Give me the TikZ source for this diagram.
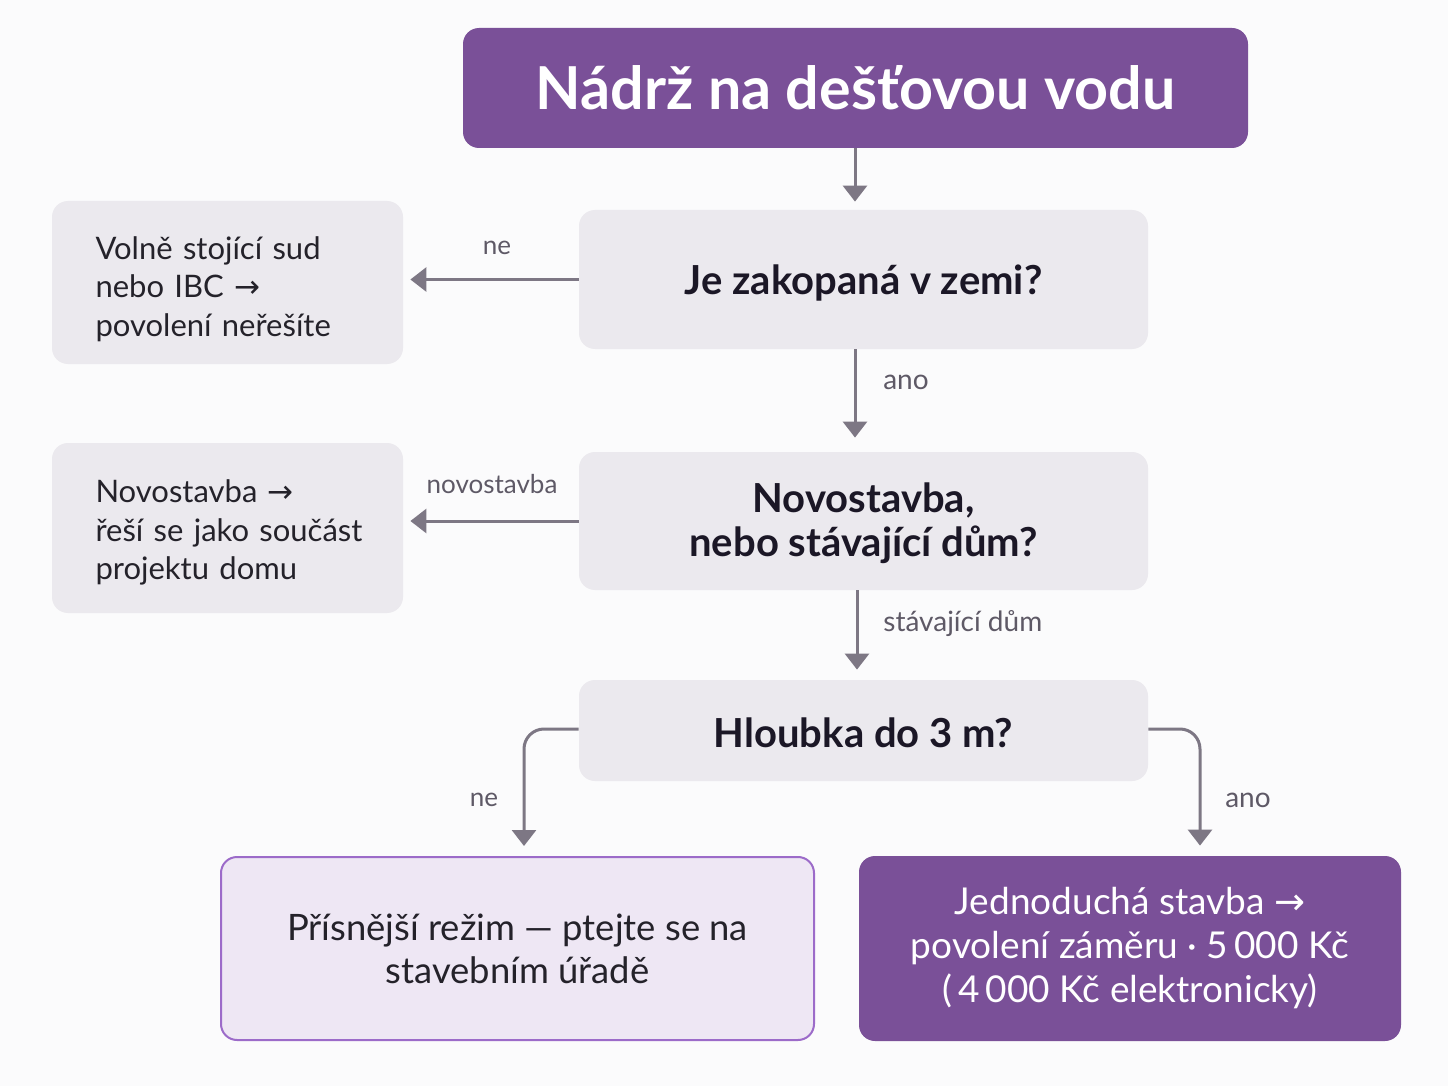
\documentclass[tikz,border=0pt]{standalone}
\usepackage{fontspec}
\setmainfont{Lato}
\newfontfamily\symf{DejaVu Sans}
\usetikzlibrary{arrows.meta}
\definecolor{purp}{HTML}{7A5098}
\definecolor{boxg}{HTML}{EBE9EE}
\definecolor{lilac}{HTML}{EEE7F4}
\definecolor{lilacb}{HTML}{9C6BC9}
\definecolor{arrg}{HTML}{7D7784}
\definecolor{labg}{HTML}{5E5966}
\definecolor{qtext}{HTML}{1B1726}
\definecolor{btext}{HTML}{24222A}
\definecolor{bgc}{HTML}{FBFBFC}
\newcommand\rarr{{\symf\char"2192}}
\begin{document}
\begin{tikzpicture}[x=0.5pt,y=-0.5pt,
  box/.style={rectangle,rounded corners=8pt,inner sep=0pt,align=center},
  qbox/.style={box,fill=boxg,text=qtext,font=\bfseries\fontsize{20}{22}\selectfont,minimum width=284.5pt},
  sidebox/.style={box,fill=boxg,text=btext,align=left,text width=132pt,inner xsep=21.75pt,minimum width=175.5pt,font=\fontsize{15.5}{19.25}\selectfont},
  lab/.style={text=labg,font=\fontsize{13}{15}\selectfont,inner sep=0pt},
  labb/.style={lab,font=\fontsize{14}{16}\selectfont},
  arr/.style={draw=arrg,line width=1.5pt,-{Triangle[width=12pt,length=8pt]}}]
\useasboundingbox (0,0) rectangle (1448,1086);
\fill[bgc] (0,0) rectangle (1448,1086);

\node[box,fill=purp,text=white,font=\bfseries\fontsize{29.6}{32}\selectfont,minimum width=392.5pt,minimum height=60pt] (t) at (855.5,88) {Nádrž na dešťovou vodu};
\node[qbox,minimum height=69.5pt] (q1) at (863.5,279.5) {\rule{0pt}{18pt}Je zakopaná v zemi?};
\node[sidebox,minimum height=81.5pt] (l1) at (227.5,282.5) {\rule{0pt}{18pt}Volně stojící sud\\nebo IBC \rarr\\\mbox{povolení neřešíte}};
\node[qbox,minimum height=69pt] (q2) at (863.5,521) {\rule{0pt}{17pt}Novostavba,\\nebo stávající dům?};
\node[sidebox,minimum height=85pt] (l2) at (227.5,528) {\rule{0pt}{16pt}Novostavba \rarr\\\mbox{řeší se jako součást}\\projektu domu};
\node[qbox,minimum height=50.5pt] (q3) at (863.5,730.5) {\rule{0pt}{17pt}Hloubka do 3 m?};
\node[box,fill=lilac,draw=lilacb,line width=1pt,text=btext,font=\fontsize{18.2}{21.5}\selectfont,minimum width=296.5pt,minimum height=91.5pt] (bl) at (517.5,948.5) {Přísnější režim — ptejte se na\\stavebním úřadě};
\node[box,fill=purp,text=white,font=\fontsize{18.5}{22}\selectfont,minimum width=271pt,minimum height=92.5pt] (br) at (1130,948.5) {Jednoduchá stavba \rarr\\povolení záměru · 5\,000 Kč\\(\,4\,000 Kč elektronicky)};

\draw[arr,shorten >=4pt] ([xshift=-0.25pt]t.south) -- ([xshift=-0.25pt]t.south |- q1.north);
\draw[arr,shorten >=7pt] ([xshift=-4.25pt]q1.south) -- ([xshift=-4.25pt]q1.south |- q2.north);
\draw[arr,shorten >=3.5pt] (q1.west) -- (q1.west -| l1.east);
\draw[arr,shorten >=3.5pt] (q2.west) -- (q2.west -| l1.east);
\draw[arr,shorten >=5pt] ([xshift=-3.25pt]q2.south) -- ([xshift=-3.25pt]q2.south |- q3.north);
\draw[arr,rounded corners=10pt,shorten >=5pt] ([yshift=0.75pt]q3.west) -| ([xshift=3.25pt]bl.north);
\draw[arr,rounded corners=10pt,shorten >=5pt] ([yshift=0.75pt]q3.east) -| ([xshift=35pt]br.north);

\node[lab] (n1) at (497,248) {ne};
\node[labb] (a1) at (906,382) {ano};
\node[lab] (n2) at (492,484) {novostavba};
\node[labb,anchor=west] (s2) at (883,624) {stávající dům};
\node[lab] (n3) at (484,800) {ne};
\node[labb] (a3) at (1248,800) {ano};
\end{tikzpicture}
\end{document}
